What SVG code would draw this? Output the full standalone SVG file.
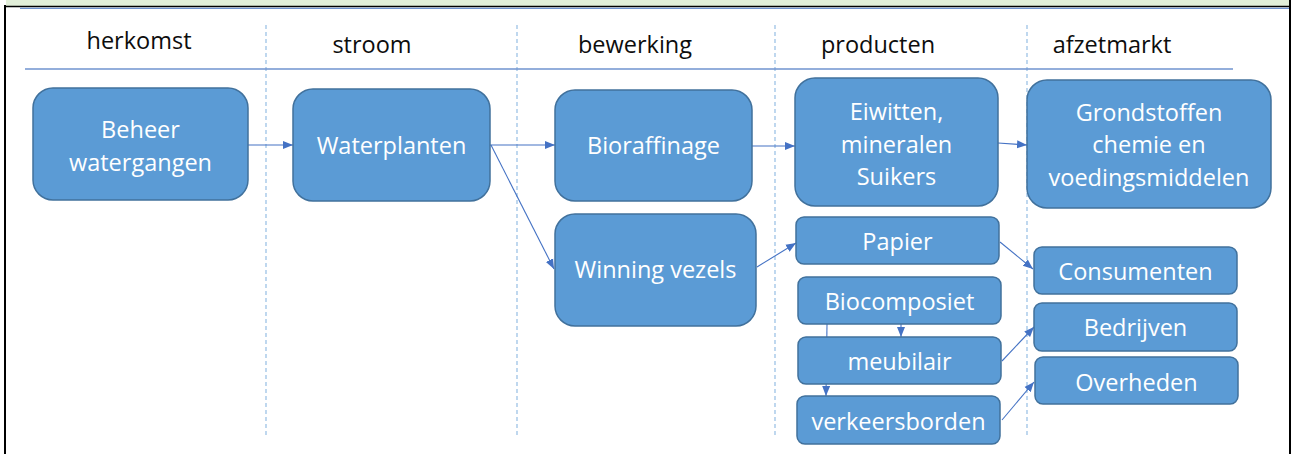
<svg xmlns="http://www.w3.org/2000/svg" width="1295" height="454" viewBox="0 0 1295 454">
  <style>
    .hdr { font-family: "Open Sans", "Noto Sans", sans-serif; font-size: 23.5px; fill: #0d0d0d; text-anchor: middle; }
    .lbl { font-family: "Open Sans", "Noto Sans", sans-serif; font-size: 23.5px; fill: #ffffff; text-anchor: middle; }
    .box { fill: #5b9bd5; stroke: #41719c; stroke-width: 1.5; }
    .col { stroke: #9dc3e6; stroke-width: 1.3; stroke-dasharray: 4 3; fill: none; }
    .rule { stroke: #6f93cf; stroke-width: 1.3; fill: none; }
    .edge { stroke: #4472c4; stroke-width: 1.1; fill: none; marker-end: url(#arr); }
  </style>
  <defs>
    <marker id="arr" viewBox="0 0 10 10" refX="10" refY="5" markerWidth="10" markerHeight="10" markerUnits="userSpaceOnUse" orient="auto">
      <path d="M0,1 L10,5 L0,9 Z" fill="#4472c4"/>
    </marker>
  </defs>

  <rect width="1295" height="454" fill="#ffffff"/>

  <!-- frame: green top band, black borders -->
  <g id="frame">
    <rect x="6" y="0" width="1283" height="6" fill="#e2efd9"/>
    <line x1="4" y1="6.5" x2="1291" y2="6.5" stroke="#000" stroke-width="1.6"/>
    <line x1="5" y1="5" x2="5" y2="454" stroke="#000" stroke-width="2"/>
    <line x1="1290" y1="0" x2="1290" y2="454" stroke="#000" stroke-width="2"/>
    <line x1="20" y1="8.3" x2="1289" y2="8.3" class="rule"/>
  </g>

  <!-- column headers and separators -->
  <g id="columns">
    <line class="col" x1="266" y1="25" x2="266" y2="438"/>
    <line class="col" x1="517" y1="25" x2="517" y2="438"/>
    <line class="col" x1="775" y1="25" x2="775" y2="438"/>
    <line class="col" x1="1027" y1="25" x2="1027" y2="438"/>
    <line class="rule" x1="25" y1="69" x2="1233" y2="69"/>
    <text class="hdr" x="139" y="49">herkomst</text>
    <text class="hdr" x="372" y="53">stroom</text>
    <text class="hdr" x="635" y="53">bewerking</text>
    <text class="hdr" x="878" y="53">producten</text>
    <text class="hdr" x="1112" y="53">afzetmarkt</text>
  </g>

  <!-- connectors -->
  <g id="connectors">
    <line class="edge" x1="248" y1="145" x2="293" y2="145"/>
    <line class="edge" x1="490" y1="145" x2="555" y2="145"/>
    <line class="edge" x1="491" y1="145" x2="554" y2="269"/>
    <line class="edge" x1="752" y1="146" x2="795" y2="146"/>
    <line class="edge" x1="757" y1="267" x2="796" y2="243"/>
    <line class="edge" x1="998" y1="143" x2="1027" y2="145"/>
    <line class="edge" x1="1000" y1="242" x2="1033" y2="269"/>
    <line class="edge" x1="901" y1="324" x2="901" y2="337"/>
    <line class="edge" x1="827" y1="324" x2="826" y2="396"/>
    <line class="edge" x1="1002" y1="361" x2="1034" y2="327"/>
    <line class="edge" x1="1002" y1="420" x2="1034" y2="382"/>
  </g>

  <g id="beheer">
    <rect class="box" x="33" y="88" width="215" height="112" rx="20"/>
    <text class="lbl" x="140.5" y="138">Beheer</text>
    <text class="lbl" x="140.5" y="171">watergangen</text>
  </g>
  <g id="waterplanten">
    <rect class="box" x="293" y="89" width="197" height="112" rx="20"/>
    <text class="lbl" x="391.5" y="154">Waterplanten</text>
  </g>
  <g id="bioraffinage">
    <rect class="box" x="555" y="90" width="197" height="111" rx="20"/>
    <text class="lbl" x="653.5" y="154">Bioraffinage</text>
  </g>
  <g id="winning-vezels">
    <rect class="box" x="555" y="214" width="201" height="112" rx="20"/>
    <text class="lbl" x="655.5" y="278">Winning vezels</text>
  </g>
  <g id="eiwitten">
    <rect class="box" x="795" y="78" width="203" height="128" rx="20"/>
    <text class="lbl" x="896.5" y="120">Eiwitten,</text>
    <text class="lbl" x="896.5" y="153">mineralen</text>
    <text class="lbl" x="896.5" y="185">Suikers</text>
  </g>
  <g id="grondstoffen">
    <rect class="box" x="1027" y="80" width="244" height="128" rx="20"/>
    <text class="lbl" x="1149" y="121">Grondstoffen</text>
    <text class="lbl" x="1149" y="153">chemie en</text>
    <text class="lbl" x="1149" y="186">voedingsmiddelen</text>
  </g>
  <g id="papier">
    <rect class="box" x="796" y="217" width="203" height="47" rx="8"/>
    <text class="lbl" x="897.5" y="250">Papier</text>
  </g>
  <g id="biocomposiet">
    <rect class="box" x="798" y="277" width="203" height="47" rx="8"/>
    <text class="lbl" x="899.5" y="310">Biocomposiet</text>
  </g>
  <g id="meubilair">
    <rect class="box" x="798" y="337" width="203" height="47" rx="8"/>
    <text class="lbl" x="899.5" y="370">meubilair</text>
  </g>
  <g id="verkeersborden">
    <rect class="box" x="797" y="396" width="203" height="48" rx="8"/>
    <text class="lbl" x="898.5" y="430">verkeersborden</text>
  </g>
  <g id="consumenten">
    <rect class="box" x="1034" y="247" width="203" height="47" rx="8"/>
    <text class="lbl" x="1135.5" y="280">Consumenten</text>
  </g>
  <g id="bedrijven">
    <rect class="box" x="1034" y="303" width="203" height="48" rx="8"/>
    <text class="lbl" x="1135.5" y="336">Bedrijven</text>
  </g>
  <g id="overheden">
    <rect class="box" x="1035" y="357" width="203" height="47" rx="8"/>
    <text class="lbl" x="1136.5" y="391">Overheden</text>
  </g>
</svg>
